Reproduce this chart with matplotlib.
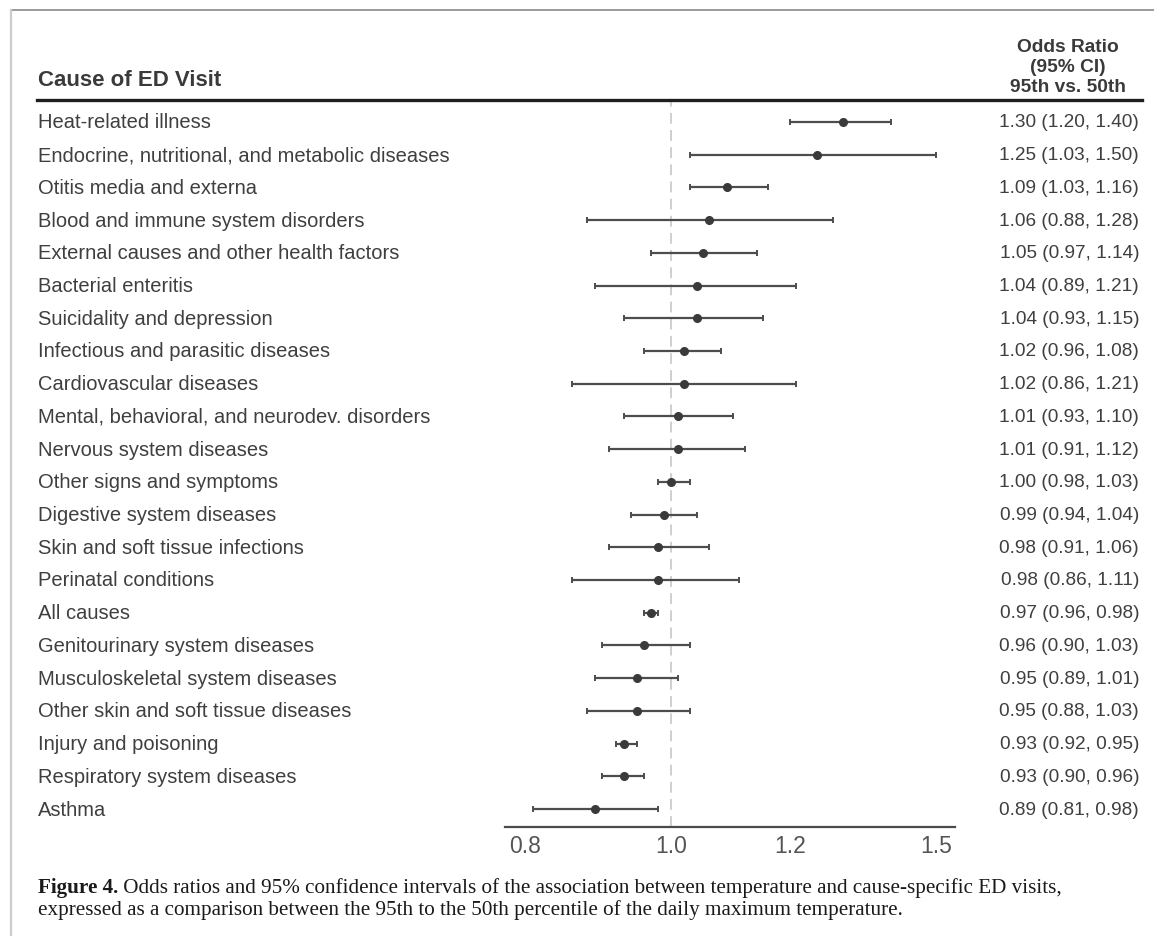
import matplotlib
matplotlib.use("Agg")
import matplotlib.pyplot as plt
from matplotlib.transforms import blended_transform_factory
from matplotlib.lines import Line2D
from matplotlib.ticker import NullLocator, NullFormatter, FixedLocator, FixedFormatter
import numpy as np

# ---------------- data ----------------
causes = [
    "Heat-related illness",
    "Endocrine, nutritional, and metabolic diseases",
    "Otitis media and externa",
    "Blood and immune system disorders",
    "External causes and other health factors",
    "Bacterial enteritis",
    "Suicidality and depression",
    "Infectious and parasitic diseases",
    "Cardiovascular diseases",
    "Mental, behavioral, and neurodev. disorders",
    "Nervous system diseases",
    "Other signs and symptoms",
    "Digestive system diseases",
    "Skin and soft tissue infections",
    "Perinatal conditions",
    "All causes",
    "Genitourinary system diseases",
    "Musculoskeletal system diseases",
    "Other skin and soft tissue diseases",
    "Injury and poisoning",
    "Respiratory system diseases",
    "Asthma",
]
odds_ratio = [1.30, 1.25, 1.09, 1.06, 1.05, 1.04, 1.04, 1.02, 1.02, 1.01, 1.01,
              1.00, 0.99, 0.98, 0.98, 0.97, 0.96, 0.95, 0.95, 0.93, 0.93, 0.89]
ci_lower = [1.20, 1.03, 1.03, 0.88, 0.97, 0.89, 0.93, 0.96, 0.86, 0.93, 0.91,
            0.98, 0.94, 0.91, 0.86, 0.96, 0.90, 0.89, 0.88, 0.92, 0.90, 0.81]
ci_upper = [1.40, 1.50, 1.16, 1.28, 1.14, 1.21, 1.15, 1.08, 1.21, 1.10, 1.12,
            1.03, 1.04, 1.06, 1.11, 0.98, 1.03, 1.01, 1.03, 0.95, 0.96, 0.98]
value_labels = [f"{o:.2f} ({l:.2f}, {u:.2f})" for o, l, u in zip(odds_ratio, ci_lower, ci_upper)]
x_ticks = [0.8, 1.0, 1.2, 1.5]
x_tick_labels = ["0.8", "1.0", "1.2", "1.5"]

header_left = "Cause of ED Visit"
header_right = ["Odds Ratio", "(95% CI)", "95th vs. 50th"]
caption_bold = "Figure 4."
caption_line1 = "Odds ratios and 95% confidence intervals of the association between temperature and cause-specific ED visits,"
caption_line2 = "expressed as a comparison between the 95th to the 50th percentile of the daily maximum temperature."

# ---------------- layout ----------------
W, H = 1154, 937
plt.rcParams["font.family"] = ["Liberation Sans", "DejaVu Sans"]
fig = plt.figure(figsize=(W / 100, H / 100), dpi=100)
fig.patch.set_facecolor("white")

def fx(px):
    return px / W

def fy(py):
    return 1 - py / H

ax = fig.add_axes([fx(505), fy(828), fx(955) - fx(505), fy(102) - fy(828)])
ax.set_xscale("log")
ax.set_xlim(0.776, 1.543)
n = len(causes)
ypos = np.arange(n)
ax.set_ylim(n - 1 + 0.55, -0.64)

odds = np.array(odds_ratio)
lo = np.array(ci_lower)
hi = np.array(ci_upper)

ax.axvline(1.0, color="#cbcbcb", lw=1.3, ls=(0, (6, 3.5)), zorder=0)
ax.errorbar(odds, ypos, xerr=[odds - lo, hi - odds], fmt="o",
            color="#3a3a3a", ecolor="#4d4d4d", elinewidth=1.6,
            capsize=2.4, capthick=1.4, markersize=5.5, zorder=3)

for s in ["top", "right", "left"]:
    ax.spines[s].set_visible(False)
ax.spines["bottom"].set_color("#4a4a4a")
ax.spines["bottom"].set_linewidth(1.6)
ax.yaxis.set_major_locator(NullLocator())
ax.xaxis.set_major_locator(FixedLocator(x_ticks))
ax.xaxis.set_major_formatter(FixedFormatter(x_tick_labels))
ax.xaxis.set_minor_locator(NullLocator())
ax.xaxis.set_minor_formatter(NullFormatter())
ax.tick_params(axis="x", length=0, pad=5, labelsize=16.5, labelcolor="#555555")
ax.patch.set_alpha(0)

trans = blended_transform_factory(fig.transFigure, ax.transData)
for i, (c, v) in enumerate(zip(causes, value_labels)):
    ax.text(fx(38), i, c, transform=trans, ha="left", va="center",
            fontsize=14.5, color="#3f3f3f", clip_on=False)
    ax.text(fx(1139), i, v, transform=trans, ha="right", va="center",
            fontsize=13.7, color="#3f3f3f", clip_on=False)

# headers
fig.text(fx(38), fy(80), header_left, ha="left", va="center",
         fontsize=16, fontweight="bold", color="#3a3a3a")
for txt, py in zip(header_right, [47, 67, 88]):
    fig.text(fx(1068), fy(py), txt, ha="center", va="center",
             fontsize=13.8, fontweight="bold", color="#3a3a3a")

fig.add_artist(Line2D([fx(37), fx(1142)], [fy(101), fy(101)], lw=2.4, color="#1e1e1e"))

# page border
fig.add_artist(Line2D([fx(11), 1.0], [fy(11), fy(11)], lw=1.4, color="#9a9a9a"))
fig.add_artist(Line2D([fx(11), fx(11)], [fy(11), 0.0], lw=1.6, color="#cccccc"))

# caption
cap_size = 13.0
cap_font = ["Liberation Serif", "DejaVu Serif"]
t1 = fig.text(fx(38), fy(888), caption_bold, ha="left", va="center",
              fontsize=cap_size, fontweight="bold", family=cap_font, color="#1a1a1a")
t2 = ax.annotate(" " + caption_line1, xy=(1, 0.5), xycoords=t1, ha="left", va="center",
                 fontsize=cap_size, family=cap_font, color="#1a1a1a", annotation_clip=False)
t3 = fig.text(fx(38), fy(910), caption_line2, ha="left", va="center",
              fontsize=cap_size, family=cap_font, color="#1a1a1a")

# fit caption width to reference (line 1 spans x 38..1058)
fig.canvas.draw()
r = fig.canvas.get_renderer()
right = t2.get_window_extent(r).x1
scale = (1058 - 38) / (right - 38 * 1.0)
new = cap_size * scale
for t in (t1, t2, t3):
    t.set_fontsize(new)

fig.savefig("out.png", dpi=100, facecolor="white")
